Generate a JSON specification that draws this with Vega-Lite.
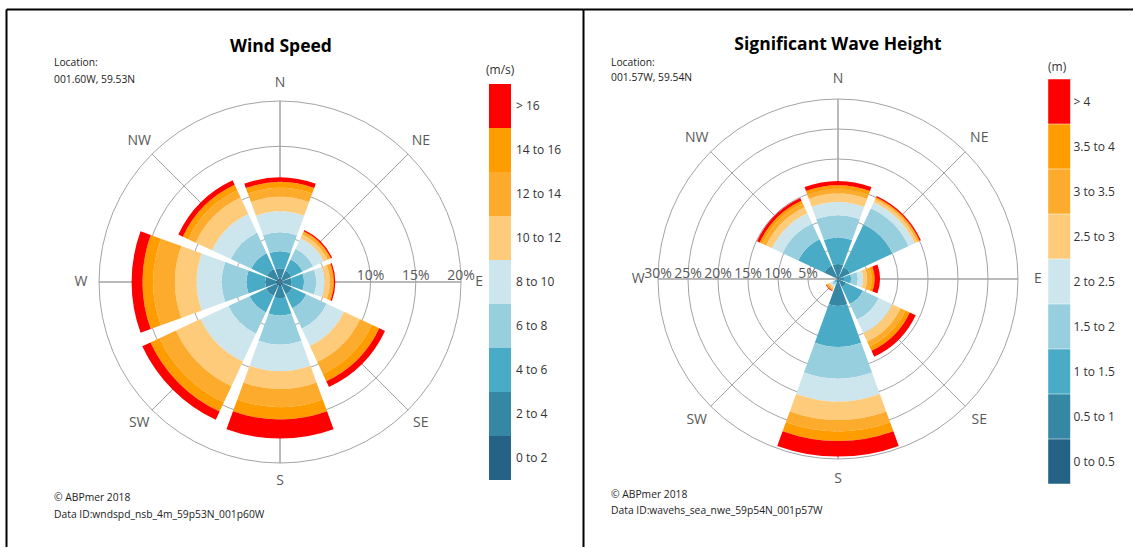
{
  "$schema": "https://vega.github.io/schema/vega-lite/v6.json",
  "background": "white",
  "padding": {"left": 6, "top": 9, "right": 0, "bottom": 0},
  "spacing": 0,
  "bounds": "flush",
  "config": {
    "font": "Open Sans",
    "view": {"stroke": null},
    "axis": {"labels": false, "ticks": false, "grid": false, "title": null, "domainColor": "#000000", "domainWidth": 2},
    "legend": {"labelFontSize": 12, "labelColor": "#333333", "titleFontSize": 12, "titleFontWeight": "normal", "titleColor": "#333333", "rowPadding": 0, "symbolStrokeWidth": 0, "symbolOpacity": 1, "labelFont": "Open Sans", "titleFont": "Open Sans"}
  },
  "resolve": {"scale": {"color": "independent", "radius": "independent", "theta": "independent", "x": "independent", "y": "independent"}},
  "datasets": {
    "dirs": [
      {"dir": 0, "label": "N"}, {"dir": 45, "label": "NE"}, {"dir": 90, "label": "E"}, {"dir": 135, "label": "SE"},
      {"dir": 180, "label": "S"}, {"dir": 225, "label": "SW"}, {"dir": 270, "label": "W"}, {"dir": 315, "label": "NW"}
    ],
    "ringsL": [{"ring": 5, "label": "5%"}, {"ring": 10, "label": "10%"}, {"ring": 15, "label": "15%"}, {"ring": 20, "label": "20%"}],
    "ringsR": [{"ring": 5, "label": "5%"}, {"ring": 10, "label": "10%"}, {"ring": 15, "label": "15%"}, {"ring": 20, "label": "20%"}, {"ring": 25, "label": "25%"}, {"ring": 30, "label": "30%"}],
    "wind": [
      {"dir": 0, "speed": "0 to 2", "lo": 0, "hi": 0.4}, {"dir": 0, "speed": "2 to 4", "lo": 0.4, "hi": 1.5}, {"dir": 0, "speed": "4 to 6", "lo": 1.5, "hi": 3.4}, {"dir": 0, "speed": "6 to 8", "lo": 3.4, "hi": 5.5}, {"dir": 0, "speed": "8 to 10", "lo": 5.5, "hi": 7.8}, {"dir": 0, "speed": "10 to 12", "lo": 7.8, "hi": 9.4}, {"dir": 0, "speed": "12 to 14", "lo": 9.4, "hi": 10.4}, {"dir": 0, "speed": "14 to 16", "lo": 10.4, "hi": 11.05}, {"dir": 0, "speed": "> 16", "lo": 11.05, "hi": 11.55},
      {"dir": 45, "speed": "0 to 2", "lo": 0, "hi": 0.35}, {"dir": 45, "speed": "2 to 4", "lo": 0.35, "hi": 1.4}, {"dir": 45, "speed": "4 to 6", "lo": 1.4, "hi": 2.75}, {"dir": 45, "speed": "6 to 8", "lo": 2.75, "hi": 4.05}, {"dir": 45, "speed": "8 to 10", "lo": 4.05, "hi": 5.35}, {"dir": 45, "speed": "10 to 12", "lo": 5.35, "hi": 5.8}, {"dir": 45, "speed": "12 to 14", "lo": 5.8, "hi": 6.05}, {"dir": 45, "speed": "14 to 16", "lo": 6.05, "hi": 6.2}, {"dir": 45, "speed": "> 16", "lo": 6.2, "hi": 6.35},
      {"dir": 90, "speed": "0 to 2", "lo": 0, "hi": 0.3}, {"dir": 90, "speed": "2 to 4", "lo": 0.3, "hi": 1.3}, {"dir": 90, "speed": "4 to 6", "lo": 1.3, "hi": 2.65}, {"dir": 90, "speed": "6 to 8", "lo": 2.65, "hi": 4.0}, {"dir": 90, "speed": "8 to 10", "lo": 4.0, "hi": 4.95}, {"dir": 90, "speed": "10 to 12", "lo": 4.95, "hi": 5.5}, {"dir": 90, "speed": "12 to 14", "lo": 5.5, "hi": 5.8}, {"dir": 90, "speed": "14 to 16", "lo": 5.8, "hi": 5.95}, {"dir": 90, "speed": "> 16", "lo": 5.95, "hi": 6.1},
      {"dir": 135, "speed": "0 to 2", "lo": 0, "hi": 0.4}, {"dir": 135, "speed": "2 to 4", "lo": 0.4, "hi": 1.5}, {"dir": 135, "speed": "4 to 6", "lo": 1.5, "hi": 3.2}, {"dir": 135, "speed": "6 to 8", "lo": 3.2, "hi": 5.7}, {"dir": 135, "speed": "8 to 10", "lo": 5.7, "hi": 7.8}, {"dir": 135, "speed": "10 to 12", "lo": 7.8, "hi": 9.75}, {"dir": 135, "speed": "12 to 14", "lo": 9.75, "hi": 11.2}, {"dir": 135, "speed": "14 to 16", "lo": 11.2, "hi": 12.1}, {"dir": 135, "speed": "> 16", "lo": 12.1, "hi": 12.8},
      {"dir": 180, "speed": "0 to 2", "lo": 0, "hi": 0.45}, {"dir": 180, "speed": "2 to 4", "lo": 0.45, "hi": 1.8}, {"dir": 180, "speed": "4 to 6", "lo": 1.8, "hi": 3.7}, {"dir": 180, "speed": "6 to 8", "lo": 3.7, "hi": 6.9}, {"dir": 180, "speed": "8 to 10", "lo": 6.9, "hi": 9.85}, {"dir": 180, "speed": "10 to 12", "lo": 9.85, "hi": 11.8}, {"dir": 180, "speed": "12 to 14", "lo": 11.8, "hi": 13.8}, {"dir": 180, "speed": "14 to 16", "lo": 13.8, "hi": 15.2}, {"dir": 180, "speed": "> 16", "lo": 15.2, "hi": 17.3},
      {"dir": 225, "speed": "0 to 2", "lo": 0, "hi": 0.45}, {"dir": 225, "speed": "2 to 4", "lo": 0.45, "hi": 1.7}, {"dir": 225, "speed": "4 to 6", "lo": 1.7, "hi": 3.7}, {"dir": 225, "speed": "6 to 8", "lo": 3.7, "hi": 6.3}, {"dir": 225, "speed": "8 to 10", "lo": 6.3, "hi": 9.7}, {"dir": 225, "speed": "10 to 12", "lo": 9.7, "hi": 12.7}, {"dir": 225, "speed": "12 to 14", "lo": 12.7, "hi": 14.7}, {"dir": 225, "speed": "14 to 16", "lo": 14.7, "hi": 15.8}, {"dir": 225, "speed": "> 16", "lo": 15.8, "hi": 16.8},
      {"dir": 270, "speed": "0 to 2", "lo": 0, "hi": 0.45}, {"dir": 270, "speed": "2 to 4", "lo": 0.45, "hi": 1.65}, {"dir": 270, "speed": "4 to 6", "lo": 1.65, "hi": 3.7}, {"dir": 270, "speed": "6 to 8", "lo": 3.7, "hi": 6.45}, {"dir": 270, "speed": "8 to 10", "lo": 6.45, "hi": 9.2}, {"dir": 270, "speed": "10 to 12", "lo": 9.2, "hi": 11.6}, {"dir": 270, "speed": "12 to 14", "lo": 11.6, "hi": 14.0}, {"dir": 270, "speed": "14 to 16", "lo": 14.0, "hi": 15.2}, {"dir": 270, "speed": "> 16", "lo": 15.2, "hi": 16.4},
      {"dir": 315, "speed": "0 to 2", "lo": 0, "hi": 0.4}, {"dir": 315, "speed": "2 to 4", "lo": 0.4, "hi": 1.6}, {"dir": 315, "speed": "4 to 6", "lo": 1.6, "hi": 3.5}, {"dir": 315, "speed": "6 to 8", "lo": 3.5, "hi": 6.0}, {"dir": 315, "speed": "8 to 10", "lo": 6.0, "hi": 8.3}, {"dir": 315, "speed": "10 to 12", "lo": 8.3, "hi": 10.3}, {"dir": 315, "speed": "12 to 14", "lo": 10.3, "hi": 11.2}, {"dir": 315, "speed": "14 to 16", "lo": 11.2, "hi": 11.85}, {"dir": 315, "speed": "> 16", "lo": 11.85, "hi": 12.4}
    ],
    "waves": [
      {"dir": 0, "hs": "0 to 0.5", "lo": 0, "hi": 0.4}, {"dir": 0, "hs": "0.5 to 1", "lo": 0.4, "hi": 2.5}, {"dir": 0, "hs": "1 to 1.5", "lo": 2.5, "hi": 6.9}, {"dir": 0, "hs": "1.5 to 2", "lo": 6.9, "hi": 10.6}, {"dir": 0, "hs": "2 to 2.5", "lo": 10.6, "hi": 12.8}, {"dir": 0, "hs": "2.5 to 3", "lo": 12.8, "hi": 14.2}, {"dir": 0, "hs": "3 to 3.5", "lo": 14.2, "hi": 15.0}, {"dir": 0, "hs": "3.5 to 4", "lo": 15.0, "hi": 15.6}, {"dir": 0, "hs": "> 4", "lo": 15.6, "hi": 16.3},
      {"dir": 45, "hs": "0 to 0.5", "lo": 0, "hi": 0.3}, {"dir": 45, "hs": "0.5 to 1", "lo": 0.3, "hi": 2.2}, {"dir": 45, "hs": "1 to 1.5", "lo": 2.2, "hi": 10.0}, {"dir": 45, "hs": "1.5 to 2", "lo": 10.0, "hi": 13.0}, {"dir": 45, "hs": "2 to 2.5", "lo": 13.0, "hi": 14.1}, {"dir": 45, "hs": "2.5 to 3", "lo": 14.1, "hi": 14.6}, {"dir": 45, "hs": "3 to 3.5", "lo": 14.6, "hi": 14.85}, {"dir": 45, "hs": "3.5 to 4", "lo": 14.85, "hi": 15.05}, {"dir": 45, "hs": "> 4", "lo": 15.05, "hi": 15.25},
      {"dir": 90, "hs": "0 to 0.5", "lo": 0, "hi": 0.2}, {"dir": 90, "hs": "0.5 to 1", "lo": 0.2, "hi": 1.0}, {"dir": 90, "hs": "1 to 1.5", "lo": 1.0, "hi": 2.2}, {"dir": 90, "hs": "1.5 to 2", "lo": 2.2, "hi": 3.3}, {"dir": 90, "hs": "2 to 2.5", "lo": 3.3, "hi": 4.2}, {"dir": 90, "hs": "2.5 to 3", "lo": 4.2, "hi": 4.9}, {"dir": 90, "hs": "3 to 3.5", "lo": 4.9, "hi": 5.6}, {"dir": 90, "hs": "3.5 to 4", "lo": 5.6, "hi": 6.1}, {"dir": 90, "hs": "> 4", "lo": 6.1, "hi": 7.0},
      {"dir": 135, "hs": "0 to 0.5", "lo": 0, "hi": 0.2}, {"dir": 135, "hs": "0.5 to 1", "lo": 0.2, "hi": 1.5}, {"dir": 135, "hs": "1 to 1.5", "lo": 1.5, "hi": 4.6}, {"dir": 135, "hs": "1.5 to 2", "lo": 4.6, "hi": 7.5}, {"dir": 135, "hs": "2 to 2.5", "lo": 7.5, "hi": 10.0}, {"dir": 135, "hs": "2.5 to 3", "lo": 10.0, "hi": 11.5}, {"dir": 135, "hs": "3 to 3.5", "lo": 11.5, "hi": 12.4}, {"dir": 135, "hs": "3.5 to 4", "lo": 12.4, "hi": 13.2}, {"dir": 135, "hs": "> 4", "lo": 13.2, "hi": 14.3},
      {"dir": 180, "hs": "0 to 0.5", "lo": 0, "hi": 0.5}, {"dir": 180, "hs": "0.5 to 1", "lo": 0.5, "hi": 4.5}, {"dir": 180, "hs": "1 to 1.5", "lo": 4.5, "hi": 11.3}, {"dir": 180, "hs": "1.5 to 2", "lo": 11.3, "hi": 16.6}, {"dir": 180, "hs": "2 to 2.5", "lo": 16.6, "hi": 20.4}, {"dir": 180, "hs": "2.5 to 3", "lo": 20.4, "hi": 23.5}, {"dir": 180, "hs": "3 to 3.5", "lo": 23.5, "hi": 25.4}, {"dir": 180, "hs": "3.5 to 4", "lo": 25.4, "hi": 27.0}, {"dir": 180, "hs": "> 4", "lo": 27.0, "hi": 29.6},
      {"dir": 225, "hs": "0 to 0.5", "lo": 0, "hi": 0.05}, {"dir": 225, "hs": "0.5 to 1", "lo": 0.05, "hi": 0.3}, {"dir": 225, "hs": "1 to 1.5", "lo": 0.3, "hi": 0.7}, {"dir": 225, "hs": "1.5 to 2", "lo": 0.7, "hi": 1.1}, {"dir": 225, "hs": "2 to 2.5", "lo": 1.1, "hi": 1.5}, {"dir": 225, "hs": "2.5 to 3", "lo": 1.5, "hi": 1.8}, {"dir": 225, "hs": "3 to 3.5", "lo": 1.8, "hi": 2.0}, {"dir": 225, "hs": "3.5 to 4", "lo": 2.0, "hi": 2.15}, {"dir": 225, "hs": "> 4", "lo": 2.15, "hi": 2.25},
      {"dir": 270, "hs": "0 to 0.5", "lo": 0, "hi": 0.02}, {"dir": 270, "hs": "0.5 to 1", "lo": 0.02, "hi": 0.05}, {"dir": 270, "hs": "1 to 1.5", "lo": 0.05, "hi": 0.1}, {"dir": 270, "hs": "1.5 to 2", "lo": 0.1, "hi": 0.15}, {"dir": 270, "hs": "2 to 2.5", "lo": 0.15, "hi": 0.2}, {"dir": 270, "hs": "2.5 to 3", "lo": 0.2, "hi": 0.22}, {"dir": 270, "hs": "3 to 3.5", "lo": 0.22, "hi": 0.24}, {"dir": 270, "hs": "3.5 to 4", "lo": 0.24, "hi": 0.25}, {"dir": 270, "hs": "> 4", "lo": 0.25, "hi": 0.26},
      {"dir": 315, "hs": "0 to 0.5", "lo": 0, "hi": 0.3}, {"dir": 315, "hs": "0.5 to 1", "lo": 0.3, "hi": 2.5}, {"dir": 315, "hs": "1 to 1.5", "lo": 2.5, "hi": 7.3}, {"dir": 315, "hs": "1.5 to 2", "lo": 7.3, "hi": 10.2}, {"dir": 315, "hs": "2 to 2.5", "lo": 10.2, "hi": 12.1}, {"dir": 315, "hs": "2.5 to 3", "lo": 12.1, "hi": 13.2}, {"dir": 315, "hs": "3 to 3.5", "lo": 13.2, "hi": 13.9}, {"dir": 315, "hs": "3.5 to 4", "lo": 13.9, "hi": 14.4}, {"dir": 315, "hs": "> 4", "lo": 14.4, "hi": 14.9}
    ]
  },
  "hconcat": [
    {
      "width": 577,
      "height": 538,
      "encoding": {
        "x": {"datum": 0, "type": "quantitative", "scale": {"domain": [-30.28, 33.48], "nice": false, "zero": false}, "axis": {"orient": "top"}},
        "y": {"datum": 0, "type": "quantitative", "scale": {"domain": [-29.28, 30.17], "nice": false, "zero": false}, "axis": {"orient": "left"}}
      },
      "layer": [
        {
          "data": {"name": "ringsL"},
          "mark": {"type": "arc", "filled": false, "stroke": "#a3a3a3", "strokeWidth": 1},
          "encoding": {
            "theta": {"datum": 0, "type": "quantitative", "scale": {"domain": [0, 360], "range": [0, 6.283185307179586]}},
            "theta2": {"datum": 360},
            "radius": {"field": "ring", "type": "quantitative", "stack": null, "scale": {"type": "linear", "domain": [0, 20], "range": [0, 181], "zero": true, "nice": false}}
          }
        },
        {
          "data": {"name": "dirs"},
          "mark": {"type": "arc", "filled": false, "stroke": "#a3a3a3", "strokeWidth": 1},
          "encoding": {
            "theta": {"field": "dir", "type": "quantitative", "stack": null, "scale": {"domain": [0, 360], "range": [0, 6.283185307179586]}},
            "theta2": {"field": "dir"},
            "radius": {"datum": 20, "type": "quantitative", "scale": {"type": "linear", "domain": [0, 20], "range": [0, 181], "zero": true, "nice": false}}
          }
        },
        {
          "data": {"name": "ringsL"},
          "transform": [{"filter": "datum.ring >= 10"}],
          "mark": {"type": "text", "fontSize": 14, "color": "#595959", "align": "center", "baseline": "middle", "dy": -6},
          "encoding": {
            "theta": {"datum": 90, "type": "quantitative", "scale": {"domain": [0, 360], "range": [0, 6.283185307179586]}},
            "radius": {"field": "ring", "type": "quantitative", "stack": null, "scale": {"type": "linear", "domain": [0, 20], "range": [0, 181], "zero": true, "nice": false}},
            "text": {"field": "label"}
          }
        },
        {
          "data": {"name": "wind"},
          "mark": {"type": "arc", "thetaOffset": -0.3491, "theta2Offset": 0.3491},
          "encoding": {
            "theta": {"field": "dir", "type": "quantitative", "stack": null, "scale": {"domain": [0, 360], "range": [0, 6.283185307179586]}},
            "theta2": {"field": "dir"},
            "radius": {"field": "hi", "type": "quantitative", "stack": null, "scale": {"type": "linear", "domain": [0, 20], "range": [0, 181], "zero": true, "nice": false}},
            "radius2": {"field": "lo"},
            "color": {
              "field": "speed", "type": "nominal",
              "scale": {
                "domain": ["> 16", "14 to 16", "12 to 14", "10 to 12", "8 to 10", "6 to 8", "4 to 6", "2 to 4", "0 to 2"],
                "range": ["#ff0000", "#ff9c00", "#fdab2d", "#fecb7b", "#cde6ee", "#98cfde", "#4aabc6", "#3587a4", "#246386"]
              },
              "legend": {"title": "(m/s)", "orient": "none", "legendX": 480, "legendY": 56, "symbolType": "M-0.864,-1H0.136V1H-0.864Z", "symbolSize": 1936, "labelOffset": -14, "titlePadding": 7}
            }
          }
        },
        {
          "data": {"name": "dirs"},
          "mark": {"type": "text", "fontSize": 14, "color": "#595959", "align": "center", "baseline": "middle"},
          "encoding": {
            "theta": {"field": "dir", "type": "quantitative", "stack": null, "scale": {"domain": [0, 360], "range": [0, 6.283185307179586]}},
            "radius": {"datum": 22, "type": "quantitative", "scale": {"type": "linear", "domain": [0, 20], "range": [0, 181], "zero": true, "nice": false}},
            "text": {"field": "label"}
          }
        },
        {
          "data": {"values": [{}]},
          "mark": {"type": "text", "text": "Wind Speed", "fontSize": 17.5, "fontWeight": "bold", "color": "#000000", "align": "center", "baseline": "middle"},
          "encoding": {
            "x": {"datum": 0.11, "type": "quantitative", "scale": {"domain": [-30.28, 33.48], "nice": false, "zero": false}, "axis": {"orient": "top"}},
            "y": {"datum": 25.97, "type": "quantitative", "scale": {"domain": [-29.28, 30.17], "nice": false, "zero": false}, "axis": {"orient": "left"}}
          }
        },
        {
          "data": {"values": [{}]},
          "mark": {"type": "text", "text": ["Location:", "001.60W, 59.53N"], "fontSize": 10.3, "lineHeight": 17, "color": "#222222", "align": "left", "baseline": "middle"},
          "encoding": {
            "x": {"datum": -24.97, "type": "quantitative", "scale": {"domain": [-30.28, 33.48], "nice": false, "zero": false}, "axis": {"orient": "top"}},
            "y": {"datum": 24.2, "type": "quantitative", "scale": {"domain": [-29.28, 30.17], "nice": false, "zero": false}, "axis": {"orient": "left"}}
          }
        },
        {
          "data": {"values": [{}]},
          "mark": {"type": "text", "text": ["© ABPmer 2018", "Data ID:wndspd_nsb_4m_59p53N_001p60W"], "fontSize": 10.3, "lineHeight": 17, "color": "#222222", "align": "left", "baseline": "middle"},
          "encoding": {
            "x": {"datum": -24.97, "type": "quantitative", "scale": {"domain": [-30.28, 33.48], "nice": false, "zero": false}, "axis": {"orient": "top"}},
            "y": {"datum": -23.87, "type": "quantitative", "scale": {"domain": [-29.28, 30.17], "nice": false, "zero": false}, "axis": {"orient": "left"}}
          }
        }
      ]
    },
    {
      "width": 550,
      "height": 538,
      "encoding": {
        "x": {"datum": 0, "type": "quantitative", "scale": {"domain": [-42.5, 49.17], "nice": false, "zero": false}, "axis": {"orient": "top"}},
        "y": {"datum": 0, "type": "quantitative", "scale": {"domain": [-44.67, 45], "nice": false, "zero": false}, "axis": {"orient": "left"}}
      },
      "layer": [
        {
          "data": {"name": "ringsR"},
          "mark": {"type": "arc", "filled": false, "stroke": "#a3a3a3", "strokeWidth": 1},
          "encoding": {
            "theta": {"datum": 0, "type": "quantitative", "scale": {"domain": [0, 360], "range": [0, 6.283185307179586]}},
            "theta2": {"datum": 360},
            "radius": {"field": "ring", "type": "quantitative", "stack": null, "scale": {"type": "linear", "domain": [0, 30], "range": [0, 180], "zero": true, "nice": false}}
          }
        },
        {
          "data": {"name": "dirs"},
          "mark": {"type": "arc", "filled": false, "stroke": "#a3a3a3", "strokeWidth": 1},
          "encoding": {
            "theta": {"field": "dir", "type": "quantitative", "stack": null, "scale": {"domain": [0, 360], "range": [0, 6.283185307179586]}},
            "theta2": {"field": "dir"},
            "radius": {"datum": 30, "type": "quantitative", "scale": {"type": "linear", "domain": [0, 30], "range": [0, 180], "zero": true, "nice": false}}
          }
        },
        {
          "data": {"name": "waves"},
          "mark": {"type": "arc", "thetaOffset": -0.3491, "theta2Offset": 0.3491},
          "encoding": {
            "theta": {"field": "dir", "type": "quantitative", "stack": null, "scale": {"domain": [0, 360], "range": [0, 6.283185307179586]}},
            "theta2": {"field": "dir"},
            "radius": {"field": "hi", "type": "quantitative", "stack": null, "scale": {"type": "linear", "domain": [0, 30], "range": [0, 180], "zero": true, "nice": false}},
            "radius2": {"field": "lo"},
            "color": {
              "field": "hs", "type": "nominal",
              "scale": {
                "domain": ["> 4", "3.5 to 4", "3 to 3.5", "2.5 to 3", "2 to 2.5", "1.5 to 2", "1 to 1.5", "0.5 to 1", "0 to 0.5"],
                "range": ["#ff0000", "#ff9c00", "#fdab2d", "#fecb7b", "#cde6ee", "#98cfde", "#4aabc6", "#3587a4", "#246386"]
              },
              "legend": {"title": "(m)", "orient": "none", "legendX": 465, "legendY": 53, "symbolType": "M-1,-1H-0.013V1H-1Z", "symbolSize": 1989, "labelOffset": -19.6, "titlePadding": 5}
            }
          }
        },
        {
          "data": {"name": "ringsR"},
          "mark": {"type": "text", "fontSize": 14, "color": "#595959", "align": "center", "baseline": "middle", "dy": -5},
          "encoding": {
            "theta": {"datum": 270, "type": "quantitative", "scale": {"domain": [0, 360], "range": [0, 6.283185307179586]}},
            "radius": {"field": "ring", "type": "quantitative", "stack": null, "scale": {"type": "linear", "domain": [0, 30], "range": [0, 180], "zero": true, "nice": false}},
            "text": {"field": "label"}
          }
        },
        {
          "data": {"name": "dirs"},
          "mark": {"type": "text", "fontSize": 14, "color": "#595959", "align": "center", "baseline": "middle"},
          "encoding": {
            "theta": {"field": "dir", "type": "quantitative", "stack": null, "scale": {"domain": [0, 360], "range": [0, 6.283185307179586]}},
            "radius": {"datum": 33.3, "type": "quantitative", "scale": {"type": "linear", "domain": [0, 30], "range": [0, 180], "zero": true, "nice": false}},
            "text": {"field": "label"}
          }
        },
        {
          "data": {"values": [{}]},
          "mark": {"type": "text", "text": "Significant Wave Height", "fontSize": 17.5, "fontWeight": "bold", "color": "#000000", "align": "center", "baseline": "middle"},
          "encoding": {
            "x": {"datum": 0, "type": "quantitative", "scale": {"domain": [-42.5, 49.17], "nice": false, "zero": false}, "axis": {"orient": "top"}},
            "y": {"datum": 39.0, "type": "quantitative", "scale": {"domain": [-44.67, 45], "nice": false, "zero": false}, "axis": {"orient": "left"}}
          }
        },
        {
          "data": {"values": [{}]},
          "mark": {"type": "text", "text": ["Location:", "001.57W, 59.54N"], "fontSize": 10.3, "lineHeight": 15, "color": "#222222", "align": "left", "baseline": "middle"},
          "encoding": {
            "x": {"datum": -37.83, "type": "quantitative", "scale": {"domain": [-42.5, 49.17], "nice": false, "zero": false}, "axis": {"orient": "top"}},
            "y": {"datum": 36.08, "type": "quantitative", "scale": {"domain": [-44.67, 45], "nice": false, "zero": false}, "axis": {"orient": "left"}}
          }
        },
        {
          "data": {"values": [{}]},
          "mark": {"type": "text", "text": ["© ABPmer 2018", "Data ID:wavehs_sea_nwe_59p54N_001p57W"], "fontSize": 10.3, "lineHeight": 16, "color": "#222222", "align": "left", "baseline": "middle"},
          "encoding": {
            "x": {"datum": -37.83, "type": "quantitative", "scale": {"domain": [-42.5, 49.17], "nice": false, "zero": false}, "axis": {"orient": "top"}},
            "y": {"datum": -36.08, "type": "quantitative", "scale": {"domain": [-44.67, 45], "nice": false, "zero": false}, "axis": {"orient": "left"}}
          }
        }
      ]
    }
  ]
}
